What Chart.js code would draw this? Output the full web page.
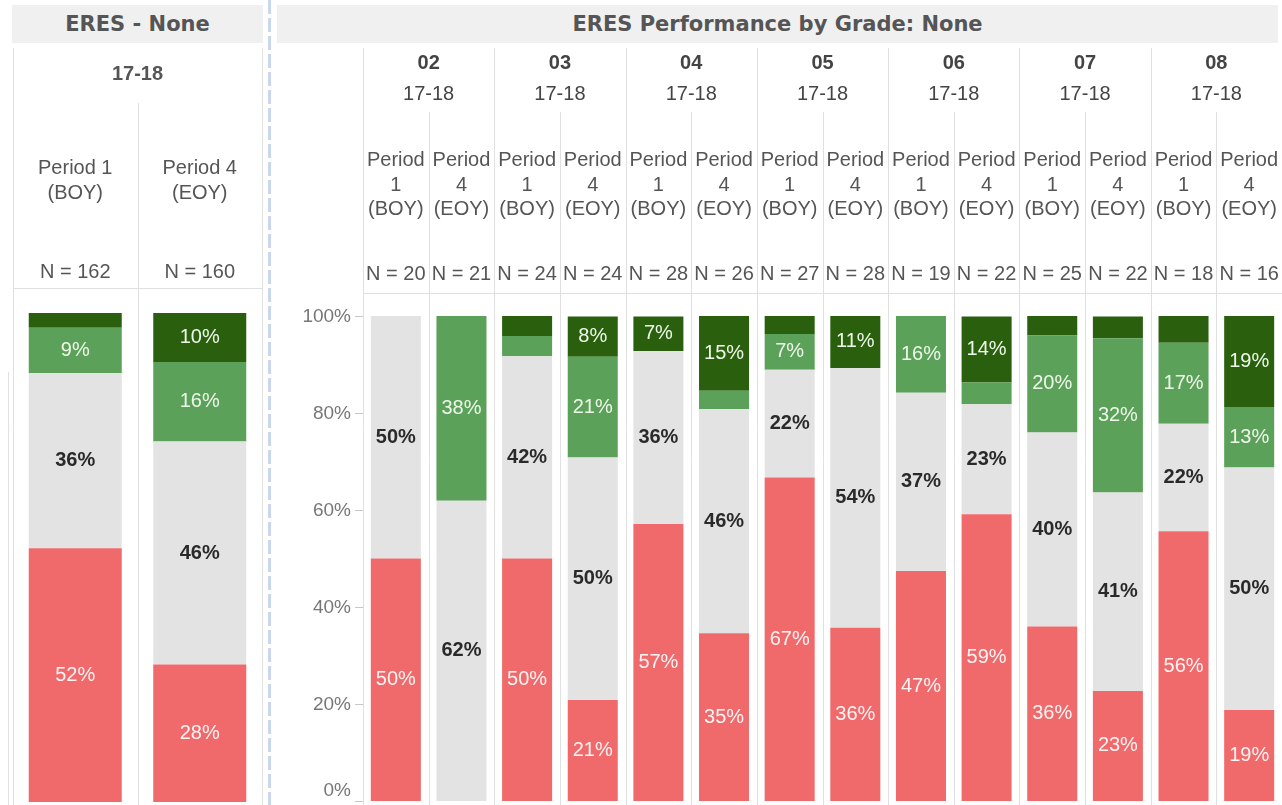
<!DOCTYPE html>
<html lang="en">
<head>
<meta charset="UTF-8">
<title>ERES Performance by Grade</title>
<script src="https://cdn.jsdelivr.net/npm/chart.js"></script>
<style>
    body { margin: 0; background: #fff; width: 1282px; height: 805px; overflow: hidden; position: relative; }
    .title { position: absolute; top: 5px; height: 38px; background: #f0f0f0; color: #555;
             font: bold 21px "DejaVu Sans", sans-serif; display: flex; align-items: center; justify-content: center; }
    #t1 { left: 12px; width: 251px; }
    #t2 { left: 277px; width: 1001px; }
    #sep { position: absolute; left: 268px; top: 0; width: 3px; height: 805px;
           background: repeating-linear-gradient(to bottom, #c9d7ec 0 14px, transparent 14px 18px); }
    canvas { position: absolute; top: 0; }
    #leftChart { left: 0; }
    #rightChart { left: 278px; }
</style>
</head>
<body>
<div class="title" id="t1">ERES - None</div>
<div class="title" id="t2">ERES Performance by Grade: None</div>
<div id="sep"></div>
<canvas id="leftChart" width="266" height="805"></canvas>
<canvas id="rightChart" width="1004" height="805"></canvas>

<script>
    // ---- data (percent of students per level) ----
    const schoolYear = '17-18';
    const periods = ['Period 1 (BOY)', 'Period 4 (EOY)'];

    const overallN = [162, 160];
    const overallBelow    = [51.9, 28.1];
    const overallApproach = [35.8, 45.6];
    const overallMeets    = [9.3, 16.3];
    const overallExceeds  = [3.1, 10.0];

    const grades = ['02', '03', '04', '05', '06', '07', '08'];
    const gradeN = [20, 21, 24, 24, 28, 26, 27, 28, 19, 22, 25, 22, 18, 16];
    const gradeBelow    = [50, 0, 50, 20.8, 57.1, 34.6, 66.7, 35.7, 47.4, 59.1, 36, 22.7, 55.6, 18.75];
    const gradeApproach = [50, 61.9, 41.7, 50, 35.7, 46.2, 22.2, 53.6, 36.8, 22.7, 40, 40.9, 22.2, 50];
    const gradeMeets    = [0, 38.1, 4.2, 20.8, 0, 3.8, 7.4, 0, 15.8, 4.5, 20, 31.8, 16.7, 12.5];
    const gradeExceeds  = [0, 0, 4.2, 8.3, 7.1, 15.4, 3.7, 10.7, 0, 13.6, 4, 4.5, 5.6, 18.75];

    const yTicks = [0, 20, 40, 60, 80, 100];

    // ---- styling ----
    const LINE = '#e0e0e0';
    const TXT = '#555';
    const FONT = '"Liberation Sans", Arial, sans-serif';

    function makeDatasets(below, approach, meets, exceeds) {
        return [
            { label: 'Below', data: below, backgroundColor: '#f0696b', textColor: '#fff4f4' },
            { label: 'Approaching', data: approach, backgroundColor: '#e3e3e3', textColor: '#2a2a2a', bold: true },
            { label: 'Meets', data: meets, backgroundColor: '#5ca15a', textColor: '#eef8ea' },
            { label: 'Exceeds', data: exceeds, backgroundColor: '#2a600d', textColor: '#eef8ea' }
        ];
    }

    const segmentLabels = {
        id: 'segmentLabels',
        afterDatasetsDraw(chart) {
            const ctx = chart.ctx;
            chart.data.datasets.forEach((ds, di) => {
                chart.getDatasetMeta(di).data.forEach((bar, i) => {
                    const v = ds.data[i];
                    if (v < 6.5) return;
                    ctx.save();
                    ctx.font = (ds.bold ? 'bold ' : '') + '20px ' + FONT;
                    ctx.fillStyle = ds.textColor;
                    ctx.textAlign = 'center';
                    ctx.textBaseline = 'middle';
                    ctx.fillText(Math.round(v) + '%', bar.x, (bar.y + bar.base) / 2);
                    ctx.restore();
                });
            });
        }
    };

    function vline(ctx, x, y1, y2) {
        ctx.beginPath(); ctx.moveTo(x, y1); ctx.lineTo(x, y2); ctx.stroke();
    }
    function text(ctx, s, x, y, font, color) {
        ctx.font = font; ctx.fillStyle = color;
        ctx.textAlign = 'center'; ctx.textBaseline = 'middle';
        ctx.fillText(s, x, y);
    }

    const leftFrame = {
        id: 'leftFrame',
        beforeDatasetsDraw(chart) {
            const { ctx, chartArea: a, scales: { x } } = chart;
            const colW = (a.right - a.left) / periods.length;
            ctx.save();
            ctx.strokeStyle = LINE; ctx.lineWidth = 1;
            vline(ctx, Math.round(a.left) + 0.5, 48, 805);
            vline(ctx, Math.round(a.right) + 0.5, 48, 805);
            for (let i = 1; i < periods.length; i++) {
                vline(ctx, Math.round(x.getPixelForValue(i) - colW / 2) + 0.5, 103, 805);
            }
            vline(ctx, 8.5, 372, 805);
            ctx.beginPath(); ctx.moveTo(a.left, 288.5); ctx.lineTo(a.right, 288.5); ctx.stroke();

            text(ctx, schoolYear, (a.left + a.right) / 2, 74, 'bold 20px ' + FONT, TXT);
            periods.forEach((p, i) => {
                const cx = x.getPixelForValue(i);
                const parts = p.split(' (');
                text(ctx, parts[0], cx, 168, '20px ' + FONT, TXT);
                text(ctx, '(' + parts[1], cx, 193, '20px ' + FONT, TXT);
                text(ctx, 'N = ' + overallN[i], cx, 272, '20px ' + FONT, TXT);
            });
            ctx.restore();
        }
    };

    const rightFrame = {
        id: 'rightFrame',
        beforeDatasetsDraw(chart) {
            const { ctx, chartArea: a, scales: { x, y } } = chart;
            const colW = (a.right - a.left) / gradeN.length;
            ctx.save();
            ctx.strokeStyle = LINE; ctx.lineWidth = 1;
            for (let i = 0; i < gradeN.length; i++) {
                vline(ctx, Math.round(x.getPixelForValue(i) - colW / 2) + 0.5, i % 2 === 0 ? 48 : 112, 805);
            }
            ctx.beginPath(); ctx.moveTo(a.left, 293.5); ctx.lineTo(a.right, 293.5); ctx.stroke();

            // y axis ticks
            ctx.strokeStyle = '#c8c8c8';
            yTicks.forEach(t => {
                const py = Math.round(y.getPixelForValue(t)) + 0.5;
                ctx.beginPath(); ctx.moveTo(a.left - 8, py); ctx.lineTo(a.left, py); ctx.stroke();
                ctx.font = '19px ' + FONT; ctx.fillStyle = '#777';
                ctx.textAlign = 'right'; ctx.textBaseline = 'middle';
                ctx.fillText(t + '%', a.left - 12, t === 0 ? py - 11 : py);
            });

            // column headers
            grades.forEach((g, gi) => {
                const cx = (x.getPixelForValue(2 * gi) + x.getPixelForValue(2 * gi + 1)) / 2;
                text(ctx, g, cx, 63, 'bold 20px ' + FONT, '#444');
                text(ctx, schoolYear, cx, 94, '20px ' + FONT, '#444');
            });
            gradeN.forEach((n, i) => {
                const cx = x.getPixelForValue(i);
                const p = periods[i % 2];
                const parts = p.split(' ');
                text(ctx, parts[0], cx, 160, '20px ' + FONT, TXT);
                text(ctx, parts[1], cx, 185, '20px ' + FONT, TXT);
                text(ctx, parts[2], cx, 209, '20px ' + FONT, TXT);
                text(ctx, 'N = ' + n, cx, 274, '20px ' + FONT, TXT);
            });
            ctx.restore();
        }
    };

    function baseOptions(padding) {
        return {
            responsive: false,
            animation: false,
            layout: { padding },
            plugins: { legend: { display: false }, tooltip: { enabled: false } },
            scales: {
                x: { display: false, stacked: true },
                y: { display: false, stacked: true, min: 0, max: 100 }
            }
        };
    }

    new Chart(document.getElementById('leftChart'), {
        type: 'bar',
        data: {
            labels: periods,
            datasets: makeDatasets(overallBelow, overallApproach, overallMeets, overallExceeds)
                .map(d => Object.assign(d, { barPercentage: 0.747, categoryPercentage: 1 }))
        },
        options: baseOptions({ left: 13, right: 4, top: 313, bottom: 3 }),
        plugins: [leftFrame, segmentLabels]
    });

    new Chart(document.getElementById('rightChart'), {
        type: 'bar',
        data: {
            labels: gradeN.map((n, i) => grades[Math.floor(i / 2)] + ' ' + periods[i % 2]),
            datasets: makeDatasets(gradeBelow, gradeApproach, gradeMeets, gradeExceeds)
                .map(d => Object.assign(d, { barPercentage: 0.762, categoryPercentage: 1 }))
        },
        options: baseOptions({ left: 85, right: 0, top: 316, bottom: 4 }),
        plugins: [rightFrame, segmentLabels]
    });
</script>
</body>
</html>
